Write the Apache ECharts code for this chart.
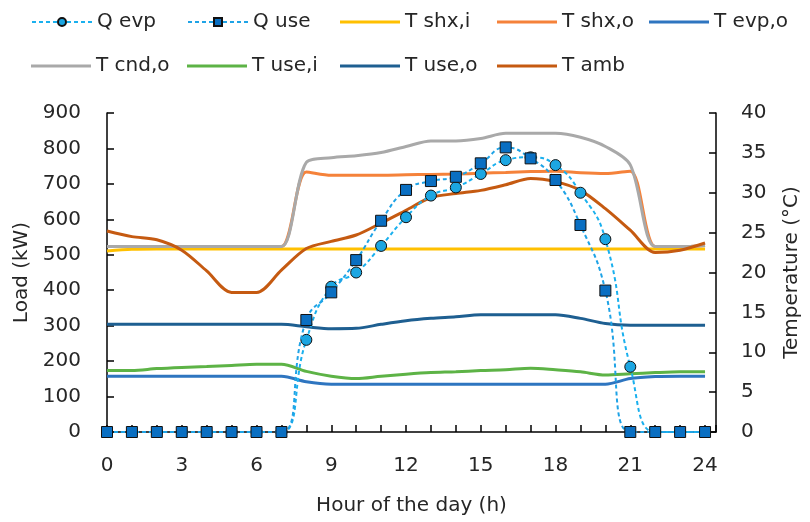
<!DOCTYPE html>
<html><head><meta charset="utf-8">
<script src="https://cdn.jsdelivr.net/npm/echarts@6/dist/echarts.min.js"></script>
<style>html,body{margin:0;padding:0;background:#fff}#c{width:810px;height:522px}</style>
</head><body><div id="c"></div>
<script>
const hours = [0,1,2,3,4,5,6,7,8,9,10,11,12,13,14,15,16,17,18,19,20,21,22,23,24];
const qEvp = [0,0,0,0,0,0,0,0,260,410,450,525,606,667,690,728,767,775,753,675,544,184,0,0,0];
const qUse = [0,0,0,0,0,0,0,0,316,394,485,596,683,708,720,758,803,772,711,584,399,0,0,0,0];
const tShxI = [22.7,22.9,22.95,22.95,22.95,22.95,22.95,22.95,22.95,22.95,22.95,22.95,22.95,22.95,22.95,22.95,22.95,22.95,22.95,22.95,22.95,22.95,22.95,22.95,22.95];
const tShxO = [23.25,23.25,23.25,23.25,23.25,23.25,23.25,23.25,32.6,32.2,32.2,32.2,32.25,32.3,32.35,32.45,32.55,32.65,32.7,32.5,32.4,32.7,23.25,23.25,23.4];
const tEvpO = [7.0,7.0,7.0,7.0,7.0,7.0,7.0,7.0,6.3,6.0,6.0,6.0,6.0,6.0,6.0,6.0,6.0,6.0,6.0,6.0,6.0,6.7,6.95,7.0,7.0];
const tCndO = [23.25,23.25,23.25,23.25,23.25,23.25,23.25,23.25,33.8,34.4,34.65,35.05,35.8,36.5,36.5,36.8,37.45,37.45,37.45,36.95,35.8,33.5,23.25,23.25,23.4];
const tUseI = [7.7,7.7,7.95,8.1,8.2,8.35,8.5,8.5,7.6,7.0,6.7,7.0,7.25,7.45,7.55,7.7,7.8,8.0,7.8,7.55,7.15,7.3,7.45,7.55,7.55];
const tUseO = [13.5,13.5,13.5,13.5,13.5,13.5,13.5,13.5,13.2,12.95,13.0,13.5,13.95,14.25,14.45,14.7,14.7,14.7,14.7,14.25,13.6,13.4,13.4,13.4,13.4];
const tAmb = [25.2,24.5,24.1,22.8,20.2,17.5,17.5,20.3,23.0,23.9,24.7,26.2,27.8,29.4,29.9,30.3,31.0,31.8,31.4,30.3,28.0,25.3,22.5,22.8,23.7];
const xTickLabels = ['0','3','6','9','12','15','18','21','24'];

const FONT = 'DejaVu Sans';
const FS = 20;
const TXT = '#262626';
const pair = (ys) => hours.map((h, i) => [h, ys[i]]);

const tSeries = [
  ['T shx,i', tShxI, '#FFC000'],
  ['T shx,o', tShxO, '#F5823A'],
  ['T evp,o', tEvpO, '#2E75C0'],
  ['T cnd,o', tCndO, '#A9A9A9'],
  ['T use,i', tUseI, '#5DB346'],
  ['T use,o', tUseO, '#1E5F91'],
  ['T amb', tAmb, '#C55A11']
].map(([name, ys, color]) => ({
  name, type: 'line', yAxisIndex: 1, data: pair(ys), smooth: 0.3,
  symbol: 'none', showSymbol: false, color,
  itemStyle: { color },
  lineStyle: { width: 3, color }, z: 2
}));

const series = [
  ...tSeries,
  { name: 'Q evp', type: 'line', yAxisIndex: 0, data: pair(qEvp), smooth: 0.5, clip: false,
    symbol: 'circle', symbolSize: 11, color: '#1CA6E2',
    lineStyle: { width: 2, type: [4, 3], color: '#1AB0EE' },
    itemStyle: { color: '#1CA6E2', borderColor: '#111', borderWidth: 1 }, z: 5 },
  { name: 'Q use', type: 'line', yAxisIndex: 0, data: pair(qUse), smooth: 0.5, clip: false,
    symbol: 'rect', symbolSize: 11, color: '#0A6FC2',
    lineStyle: { width: 2, type: [4, 3], color: '#1FA3E6' },
    itemStyle: { color: '#0A6FC2', borderColor: '#111', borderWidth: 1 }, z: 6 }
];

const legendPos = [
  ['Q evp', 31, 12, false], ['Q use', 187, 12, false], ['T shx,i', 340, 12, true], ['T shx,o', 497, 12, true], ['T evp,o', 649, 12, true],
  ['T cnd,o', 31, 56, true], ['T use,i', 187, 56, true], ['T use,o', 340, 56, true], ['T amb', 497, 56, true]
];
const legends = legendPos.map(([n, l, t, isT]) => {
  const lg = {
    data: [n], left: l, top: t, itemWidth: 60, itemHeight: isT ? 3 : 10, padding: 0,
    textStyle: { fontFamily: FONT, fontSize: FS, color: TXT, padding: [0, 0, 0, 0] }
  };
  if (isT) lg.icon = 'rect';
  return lg;
});

const axisCommon = {
  axisLine: { show: true, lineStyle: { color: '#000', width: 1.5 } },
  axisTick: { show: true, inside: true, length: 7, lineStyle: { color: '#000', width: 1.5 } },
  splitLine: { show: false },
  axisLabel: { fontFamily: FONT, fontSize: FS, color: TXT },
  nameTextStyle: { fontFamily: FONT, fontSize: FS, color: TXT }
};

const option = {
  animation: false,
  backgroundColor: '#fff',
  legend: legends,
  grid: { left: 107, right: 87, top: 113, bottom: 90, containLabel: false },
  xAxis: {
    ...axisCommon, type: 'value', min: 0, max: 24.44, interval: 1,
    name: 'Hour of the day (h)', nameLocation: 'middle', nameGap: 64,
    axisLabel: { ...axisCommon.axisLabel, margin: 24,
      formatter: v => xTickLabels.includes(String(v)) ? String(v) : '' }
  },
  yAxis: [
    { ...axisCommon, type: 'value', min: 0, max: 900, interval: 100, position: 'left',
      name: 'Load (kW)', nameLocation: 'middle', nameGap: 74, nameRotate: 90,
      axisLabel: { ...axisCommon.axisLabel, margin: 26 } },
    { ...axisCommon, type: 'value', min: 0, max: 40, interval: 5, position: 'right',
      name: 'Temperature (°C)', nameLocation: 'middle', nameGap: 66, nameRotate: 90,
      axisLabel: { ...axisCommon.axisLabel, margin: 25 } }
  ],
  series
};
const chart = echarts.init(document.getElementById('c'), null, { renderer: 'canvas' });
chart.setOption(option);
</script></body></html>
